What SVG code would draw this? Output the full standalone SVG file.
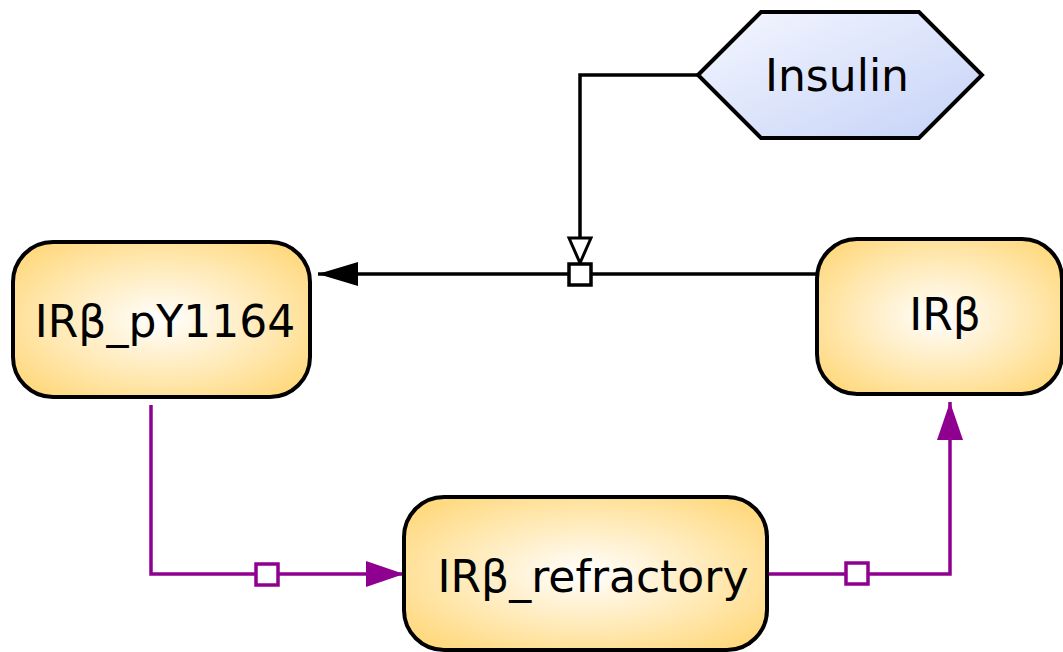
<svg xmlns="http://www.w3.org/2000/svg" width="1063" height="652" viewBox="0 0 1063 652">
<defs>
<radialGradient id="gy" cx="50%" cy="50%" r="62%">
<stop offset="0" stop-color="#FFFFFF"/>
<stop offset="1" stop-color="#FFD97F"/>
</radialGradient>
<linearGradient id="gb" x1="0" y1="0" x2="1" y2="1">
<stop offset="0" stop-color="#F5F7FF"/>
<stop offset="1" stop-color="#C5D2F7"/>
</linearGradient>
<marker id="ab" markerWidth="40" markerHeight="24" refX="40" refY="12" orient="auto" markerUnits="userSpaceOnUse">
<path d="M0,0 L40,12 L0,24 Z" fill="#000"/>
</marker>
<marker id="ap" markerWidth="38" markerHeight="26" refX="38" refY="13" orient="auto" markerUnits="userSpaceOnUse">
<path d="M0,0 L38,13 L0,26 Z" fill="#900090"/>
</marker>
<marker id="ah" markerWidth="30" markerHeight="30" refX="27" refY="13" orient="auto" markerUnits="userSpaceOnUse">
<path d="M2,2 L27,13 L2,24 Z" fill="#fff" stroke="#000" stroke-width="3"/>
</marker>
</defs>
<style>
.node{fill:url(#gy);stroke:#000;stroke-width:4}
.lbl{font-family:"DejaVu Sans",sans-serif;font-size:44px;fill:#000;text-anchor:middle}
.cb{fill:none;stroke:#000;stroke-width:3.5}
.cp{fill:none;stroke:#900090;stroke-width:3.5}
.sqb{fill:#fff;stroke:#000;stroke-width:3.5}
.sqp{fill:#fff;stroke:#900090;stroke-width:3.5}
</style>
<g id="connectors">
<path class="cb" d="M818,274 L318,274" marker-end="url(#ab)"/>
<path class="cb" d="M698,75 L580,75 L580,263" marker-end="url(#ah)"/>
<rect class="sqb" x="569" y="264" width="22" height="21"/>
<path class="cp" d="M151,405 L151,574 L404,574" marker-end="url(#ap)"/>
<rect class="sqp" x="256" y="564" width="22" height="21"/>
<path class="cp" d="M768,574 L950,574 L950,402" marker-end="url(#ap)"/>
<rect class="sqp" x="846" y="563" width="22" height="21"/>
</g>
<g id="insulin">
<path d="M698,75 L761,12 L919,12 L982,75 L919,138 L761,138 Z" fill="url(#gb)" stroke="#000" stroke-width="4"/>
<text class="lbl" x="837" y="91">Insulin</text>
</g>
<g id="irb_py1164">
<rect class="node" x="13" y="242" width="297" height="155" rx="40"/>
<text class="lbl" x="165" y="337">IRβ_pY1164</text>
</g>
<g id="irb">
<rect class="node" x="817" y="239" width="245" height="155" rx="40"/>
<text class="lbl" x="945" y="330">IRβ</text>
</g>
<g id="irb_refractory">
<rect class="node" x="404" y="497" width="363" height="153" rx="40"/>
<text class="lbl" x="593" y="592">IRβ_refractory</text>
</g>
</svg>
